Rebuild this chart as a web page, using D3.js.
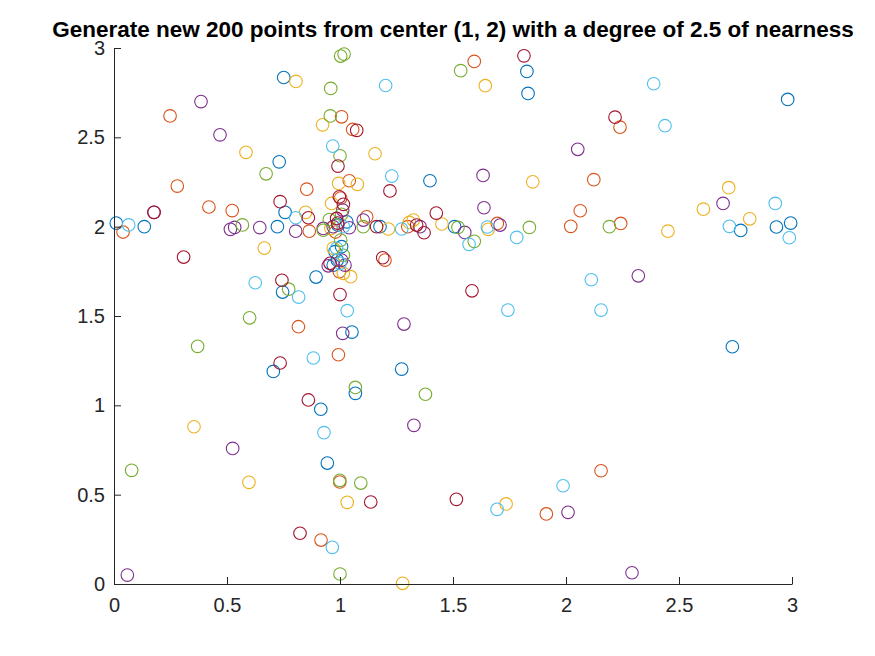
<!DOCTYPE html>
<html>
<head>
<meta charset="utf-8">
<script src="https://cdn.jsdelivr.net/npm/d3@7"></script>
<style>
  body { margin: 0; background: #fff; }
  text { font-family: "Liberation Sans", Arial, sans-serif; }
</style>
</head>
<body>
<svg id="chart" width="875" height="656"></svg>
<script>
const title = 'Generate new 200 points from center (1, 2) with a degree of 2.5 of nearness';
const xTicks = [0, 0.5, 1, 1.5, 2, 2.5, 3];
const yTicks = [0, 0.5, 1, 1.5, 2, 2.5, 3];

// one list per colour of the default colour order
const blue = [[0.01,2.02],[0.134,2.0],[0.723,2.0],[0.757,2.08],[0.731,2.363],[0.751,2.835],[0.746,1.634],[0.894,1.718],
  [0.705,1.19],[1.053,1.41],[1.273,1.203],[1.068,1.067],[0.915,0.978],[0.944,0.677],[1.398,2.257],[1.03,2.027],
  [1.177,2.0],[1.007,1.888],[0.978,1.86],[0.988,1.813],[0.97,1.785],[1.827,2.869],[1.832,2.746],[1.507,2.0],
  [2.981,2.712],[2.773,1.979],[2.931,1.998],[2.994,2.02],[2.736,1.328],[0.99,2.01]];
const orange = [[0.04,1.97],[0.248,2.62],[0.28,2.227],[0.42,2.11],[0.523,2.09],[0.864,1.975],[0.853,2.21],[1.007,2.615],
  [1.056,2.544],[1.041,2.257],[0.816,1.44],[0.993,1.283],[0.999,0.571],[0.916,0.246],[1.003,2.16],[1.118,2.055],
  [0.997,1.748],[1.199,1.813],[1.594,2.925],[2.123,2.263],[2.063,2.089],[1.696,2.018],[2.021,2.002],[2.239,2.557],
  [2.242,2.018],[2.155,0.634],[1.913,0.392],[0.98,1.97],[1.3,2.0]];
const yellow = [[0.584,2.416],[0.805,2.813],[0.923,2.57],[1.155,2.408],[0.994,2.242],[1.077,2.237],[0.848,2.08],[0.665,1.88],
  [0.354,0.88],[0.597,0.569],[1.032,0.457],[1.277,0.004],[0.963,2.13],[1.214,1.987],[1.307,2.024],[1.325,2.037],
  [0.97,1.88],[1.015,1.739],[1.047,1.72],[1.643,2.789],[1.853,2.251],[1.451,2.015],[1.656,1.985],[1.735,0.448],
  [2.72,2.218],[2.608,2.098],[2.451,1.975],[2.813,2.044],[0.96,1.99]];
const purple = [[0.177,2.08],[0.385,2.70],[0.469,2.514],[0.515,1.985],[0.534,1.996],[0.645,1.995],[0.804,1.975],[1.012,1.403],
  [1.283,1.455],[1.327,0.888],[0.525,0.759],[0.059,0.05],[1.012,2.093],[0.926,1.99],[0.97,2.0],[1.041,1.994],
  [1.103,2.037],[1.007,1.813],[0.948,1.781],[1.022,1.785],[2.052,2.433],[1.633,2.287],[1.637,2.106],[1.354,2.0],
  [1.552,1.968],[1.708,2.009],[2.695,2.13],[2.32,1.725],[2.009,0.401],[2.292,0.063]];
const green = [[0.568,2.01],[0.773,1.65],[0.60,1.49],[0.37,1.33],[0.673,2.296],[0.959,2.774],[1.003,2.955],[1.018,2.966],
  [0.957,2.62],[1.0,2.397],[1.068,1.10],[1.378,1.062],[0.999,0.58],[1.092,0.565],[1.0,0.056],[0.078,0.636],
  [1.007,2.069],[0.953,2.04],[0.926,1.98],[1.103,2.0],[1.003,1.925],[1.015,1.84],[1.534,2.873],[1.522,1.996],
  [1.594,1.918],[1.838,1.996],[2.192,2.0]];
const lightBlue = [[0.065,2.01],[0.804,2.05],[0.625,1.686],[0.817,1.606],[0.882,1.265],[1.202,2.79],[0.968,2.451],[1.229,2.283],
  [1.032,1.53],[0.929,0.847],[0.966,0.205],[1.015,2.0],[1.273,1.987],[0.985,1.879],[1.0,1.795],[1.571,1.901],
  [1.652,1.998],[1.782,1.94],[2.112,1.703],[1.743,1.533],[2.155,1.533],[2.388,2.80],[2.438,2.565],[2.926,2.13],
  [2.723,2.002],[2.988,1.938],[1.987,0.55],[1.695,0.418]];
const darkRed = [[0.177,2.08],[0.308,1.83],[0.735,2.14],[0.86,2.05],[0.743,1.70],[0.735,1.237],[1.074,2.539],[0.991,2.339],
  [1.221,2.20],[0.86,1.03],[1.136,0.459],[0.823,0.284],[0.997,2.167],[1.015,2.125],[0.985,2.046],[1.162,2.0],
  [1.339,2.009],[0.956,1.795],[1.189,1.826],[1.0,1.62],[1.814,2.956],[1.426,2.076],[1.372,1.966],[1.584,1.641],
  [2.217,2.613],[1.515,0.474],[0.99,2.02]];

const series = [
  { color: '#0072BD', points: blue },
  { color: '#D95319', points: orange },
  { color: '#EDB120', points: yellow },
  { color: '#7E2F8E', points: purple },
  { color: '#77AC30', points: green },
  { color: '#4DBEEE', points: lightBlue },
  { color: '#A2142F', points: darkRed },
];

let Chart = {
    init: function() {
        this.svg = d3.select('#chart');
        this.left = 114; this.right = 792;
        this.top = 48; this.bottom = 584;
        this.x = d3.scaleLinear().domain([0, 3]).range([this.left, this.right]);
        this.y = d3.scaleLinear().domain([0, 3]).range([this.bottom, this.top]);
        this.drawPoints();
        this.drawAxes();
        this.drawTitle();
    },
    // circles, one group per colour
    drawPoints: function() {
        const g = this.svg.append('g');
        series.forEach(s => {
            g.append('g').selectAll('circle')
                .data(s.points)
                .join('circle')
                .attr('cx', d => this.x(d[0]))
                .attr('cy', d => this.y(d[1]))
                .attr('r', 6.3)
                .attr('fill', 'none')
                .attr('stroke', s.color)
                .attr('stroke-width', 1.1);
        });
    },
    // left and bottom axes, ticks pointing inward
    drawAxes: function() {
        const xAxis = d3.axisBottom(this.x).tickValues(xTicks)
            .tickFormat(d3.format('~g')).tickSizeInner(-7).tickSizeOuter(0).tickPadding(14);
        const yAxis = d3.axisLeft(this.y).tickValues(yTicks)
            .tickFormat(d3.format('~g')).tickSizeInner(-7).tickSizeOuter(0).tickPadding(9);
        const gx = this.svg.append('g')
            .attr('transform', `translate(0,${this.bottom})`)
            .call(xAxis);
        const gy = this.svg.append('g')
            .attr('transform', `translate(${this.left},0)`)
            .call(yAxis);
        [gx, gy].forEach(g => {
            g.select('.domain').attr('stroke', '#262626').attr('stroke-width', 1);
            g.selectAll('line').attr('stroke', '#262626');
            g.selectAll('text')
                .attr('fill', '#262626')
                .style('font-size', '20px')
                .style('font-family', '"Liberation Sans", Arial, sans-serif');
        });
    },
    drawTitle: function() {
        this.svg.append('text')
            .attr('x', (this.left + this.right) / 2)
            .attr('y', 37)
            .attr('text-anchor', 'middle')
            .attr('fill', '#000')
            .style('font-size', '22.5px')
            .style('font-weight', 'bold')
            .text(title);
    },
}

Chart.init();
</script>
</body>
</html>
